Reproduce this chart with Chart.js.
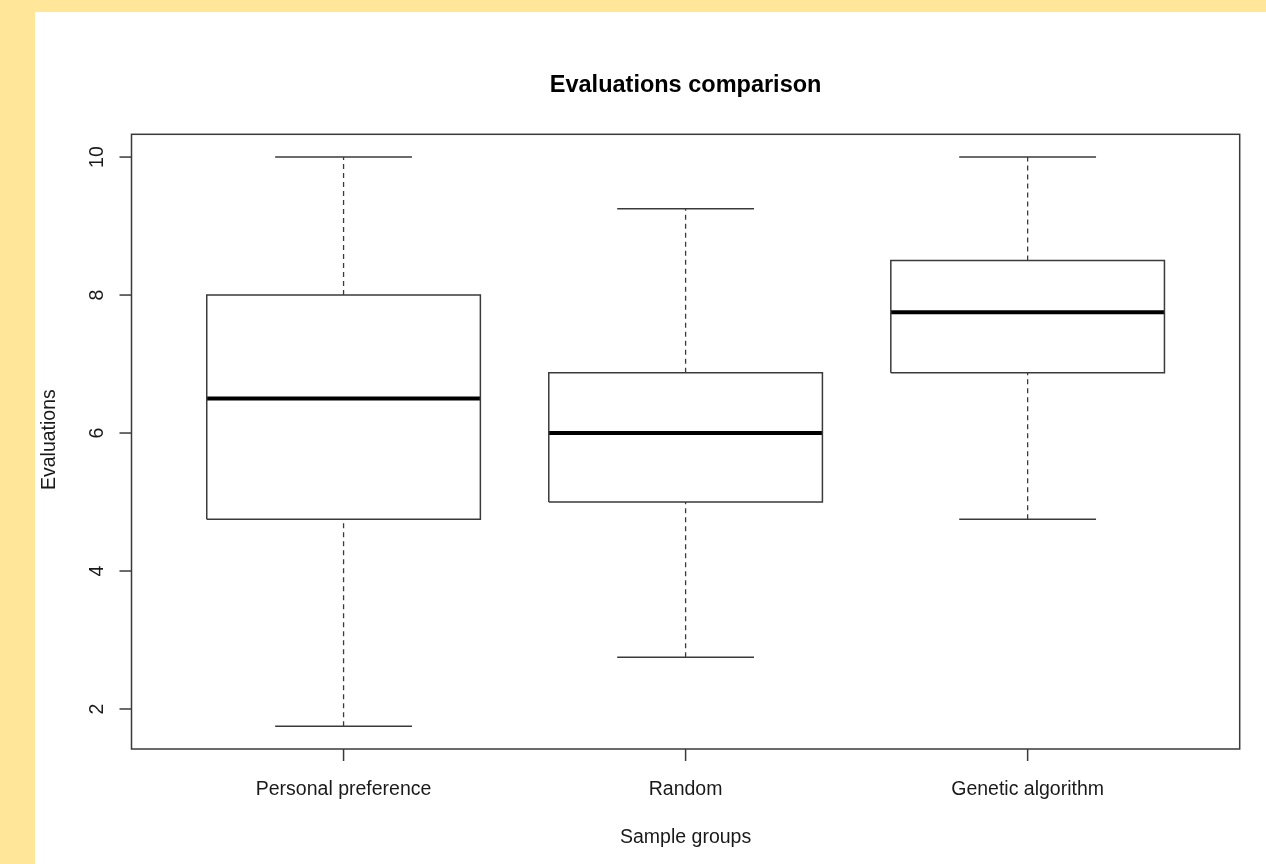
<!DOCTYPE html>
<html>
<head>
<meta charset="utf-8">
<title>Evaluations comparison</title>
<script src="https://cdn.jsdelivr.net/npm/chart.js@4.4.1/dist/chart.umd.min.js"></script>
<style>
  html, body { margin: 0; padding: 0; background: #FFE699; }
  body { width: 1266px; height: 864px; position: relative; overflow: hidden; }
  #panel { position: absolute; left: 35px; top: 12px; width: 1231px; height: 852px; background: #ffffff; }
  #chart { display: block; }
</style>
</head>
<body>
<div id="panel"><canvas id="chart" width="1231" height="852"></canvas></div>
<script>
// Five-number summaries for each sample group
const categories = ['Personal preference', 'Random', 'Genetic algorithm'];
const whiskerLow  = [1.75, 2.75, 4.75];
const quartile1   = [4.75, 5.0, 6.875];
const medians     = [6.5, 6.0, 7.75];
const quartile3   = [8.0, 6.875, 8.5];
const whiskerHigh = [10.0, 9.25, 10.0];
const yTickValues = [2, 4, 6, 8, 10];

const chartTitle = 'Evaluations comparison';
const xTitle = 'Sample groups';
const yTitle = 'Evaluations';

const LINE = '#3a3a3a';
const FONT = '"Liberation Sans", Arial, Helvetica, sans-serif';
const BOX_HALF = 0.4;
const CAP_HALF = 0.2;

function seg(points, extra) {
  return Object.assign({
    data: points,
    showLine: true,
    fill: false,
    borderColor: LINE,
    borderWidth: 1.5,
    pointRadius: 0,
    pointHoverRadius: 0,
    tension: 0
  }, extra || {});
}

const datasets = [];
categories.forEach((name, i) => {
  const x = i + 1;
  // box from Q1 to Q3
  datasets.push(seg([
    {x: x - BOX_HALF, y: quartile1[i]}, {x: x + BOX_HALF, y: quartile1[i]},
    {x: x + BOX_HALF, y: quartile3[i]}, {x: x - BOX_HALF, y: quartile3[i]},
    {x: x - BOX_HALF, y: quartile1[i]}
  ], {backgroundColor: '#ffffff', fill: true, label: name}));
  // dashed whiskers
  datasets.push(seg([{x: x, y: quartile3[i]}, {x: x, y: whiskerHigh[i]}], {borderDash: [5, 4], borderWidth: 1.3}));
  datasets.push(seg([{x: x, y: whiskerLow[i]}, {x: x, y: quartile1[i]}], {borderDash: [5, 4], borderWidth: 1.3}));
  // whisker caps
  datasets.push(seg([{x: x - CAP_HALF, y: whiskerHigh[i]}, {x: x + CAP_HALF, y: whiskerHigh[i]}]));
  datasets.push(seg([{x: x - CAP_HALF, y: whiskerLow[i]}, {x: x + CAP_HALF, y: whiskerLow[i]}]));
  // median
  datasets.push(seg([{x: x - BOX_HALF, y: medians[i]}, {x: x + BOX_HALF, y: medians[i]}], {borderColor: '#000000', borderWidth: 4, borderCapStyle: 'butt'}));
});

// Frame, tick marks and all axis text, positioned from the chart's scales
const axisDecor = {
  id: 'axisDecor',
  afterDatasetsDraw(chart) {
    const ctx = chart.ctx;
    const a = chart.chartArea;
    const xs = chart.scales.x;
    const ys = chart.scales.y;
    ctx.save();
    ctx.strokeStyle = LINE;
    ctx.lineWidth = 1.5;
    ctx.strokeRect(a.left, a.top, a.right - a.left, a.bottom - a.top);

    // y ticks
    ctx.fillStyle = '#1a1a1a';
    ctx.font = '19.5px ' + FONT;
    yTickValues.forEach(v => {
      const py = ys.getPixelForValue(v);
      ctx.beginPath();
      ctx.moveTo(a.left - 12, py);
      ctx.lineTo(a.left, py);
      ctx.stroke();
      ctx.save();
      ctx.translate(68, py);
      ctx.rotate(-Math.PI / 2);
      ctx.textAlign = 'center';
      ctx.textBaseline = 'alphabetic';
      ctx.fillText(String(v), 0, 0);
      ctx.restore();
    });

    // x ticks
    categories.forEach((name, i) => {
      const px = xs.getPixelForValue(i + 1);
      ctx.beginPath();
      ctx.moveTo(px, a.bottom);
      ctx.lineTo(px, a.bottom + 12);
      ctx.stroke();
      ctx.textAlign = 'center';
      ctx.textBaseline = 'alphabetic';
      ctx.fillText(name, px, 783);
    });

    // axis titles
    const cx = (a.left + a.right) / 2;
    const cy = (a.top + a.bottom) / 2;
    ctx.fillText(xTitle, cx, 831);
    ctx.save();
    ctx.translate(20, cy - 2);
    ctx.rotate(-Math.PI / 2);
    ctx.textAlign = 'center';
    ctx.fillText(yTitle, 0, 0);
    ctx.restore();

    // main title
    ctx.fillStyle = '#000000';
    ctx.font = 'bold 23.5px ' + FONT;
    ctx.fillText(chartTitle, cx, 80);
    ctx.restore();
  }
};

new Chart(document.getElementById('chart'), {
  type: 'scatter',
  data: { datasets },
  options: {
    responsive: false,
    animation: false,
    events: [],
    layout: { padding: { left: 96.5, top: 122.3, right: 26.3, bottom: 115 } },
    plugins: { legend: { display: false }, title: { display: false }, tooltip: { enabled: false } },
    scales: {
      x: { type: 'linear', min: 0.38, max: 3.62, display: false },
      y: { type: 'linear', min: 1.42, max: 10.33, display: false }
    }
  },
  plugins: [axisDecor]
});
</script>
</body>
</html>
